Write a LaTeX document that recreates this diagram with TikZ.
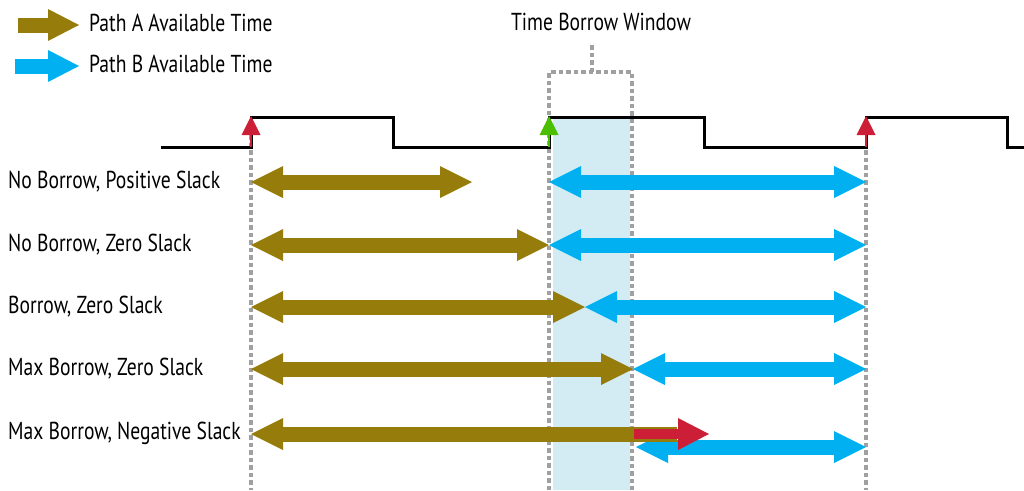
\documentclass[tikz,border=0pt]{standalone}
\usepackage{fontspec}
\setmainfont{PT Sans}[FakeStretch=0.8]
\usetikzlibrary{arrows.meta}
\definecolor{pathAcol}{RGB}{150,124,11}
\definecolor{pathBcol}{RGB}{0,176,240}
\definecolor{edgeRed}{RGB}{204,30,55}
\definecolor{edgeGreen}{RGB}{76,190,0}
\definecolor{gridGray}{RGB}{160,160,160}
\definecolor{windowFill}{RGB}{211,235,243}
\begin{document}
\begin{tikzpicture}[x=1pt,y=-1pt,
  lbl/.style={font=\fontsize{24.5}{28}\selectfont, inner sep=0pt, anchor=west, text=black},
  clk/.style={line width=3pt, black, line join=miter},
  gridline/.style={draw=gridGray, line width=3.5pt, dash pattern=on 4.5pt off 3pt},
  dblA/.style={pathAcol, line width=15pt, {Triangle[length=32pt,width=32pt,line width=0pt]}-{Triangle[length=32pt,width=32pt,line width=0pt]}},
  dblB/.style={pathBcol, line width=15pt, {Triangle[length=32pt,width=32pt,line width=0pt]}-{Triangle[length=32pt,width=32pt,line width=0pt]}},
  leftA/.style={pathAcol, line width=15pt, {Triangle[length=32pt,width=32pt,line width=0pt]}-},
  rightA/.style={pathAcol, line width=15pt, -{Triangle[length=31pt,width=32pt,line width=0pt]}},
  rightB/.style={pathBcol, line width=15pt, -{Triangle[length=31pt,width=32pt,line width=0pt]}},
  late/.style={edgeRed, line width=10pt, -{Triangle[length=31pt,width=32pt,line width=0pt]}},
  edgemark/.style={line width=2pt, -{Triangle[length=19pt,width=19pt,line width=0pt]}}
]
\useasboundingbox (0,0) rectangle (1024,490);

% time points
\coordinate (t1) at (251,0);
\coordinate (t2) at (549,0);
\coordinate (tw) at (632,0);
\coordinate (t3) at (866,0);

% time borrow window shading
\fill[windowFill] (553,117) rectangle (630,490);

% grid lines
\draw[gridline] (t1 |- 0,135) -- (t1 |- 0,490);
\draw[gridline] (t3 |- 0,150) -- (t3 |- 0,490);
\draw[gridline] (t2 |- 0,490) -- (t2 |- 0,72) -- (tw |- 0,72) -- (tw |- 0,490);
\coordinate (wtop) at (592,72);
\coordinate (wtick) at (592,42);
\draw[gridline] (wtop) -- (wtick);
\node[font=\fontsize{24.5}{28}\selectfont, inner sep=0pt, text=black] (twlabel) at (601,22) {Time Borrow Window};

% clock
\draw[clk] (161,147) -- (t1 |- 0,147) -- (t1 |- 0,117) -- (393,117) -- (393,147)
  -- (t2 |- 0,147) -- (t2 |- 0,117) -- (704,117) -- (704,147)
  -- (t3 |- 0,147) -- (t3 |- 0,117) -- (1007,117) -- (1007,147) -- (1024,147);

% edge markers
\draw[edgemark, edgeRed] (t1 |- 0,147) -- (t1 |- 0,116);
\draw[edgemark, edgeGreen] (t2 |- 0,147) -- (t2 |- 0,116);
\draw[edgemark, edgeRed] (t3 |- 0,147) -- (t3 |- 0,116);

% legend
\coordinate (legAs) at (18,25); \coordinate (legAe) at (79,25);
\coordinate (legBs) at (15,66); \coordinate (legBe) at (79,66);
\draw[rightA] (legAs) -- (legAe);
\draw[rightB] (legBs) -- (legBe);
\node[lbl] (legA) at (89,23) {Path A Available Time};
\node[lbl] (legB) at (89,64) {Path B Available Time};

% row labels
\node[lbl] (r1) at (8,182) {No Borrow, Positive Slack};
\node[lbl] (r2) at (8,245) {No Borrow, Zero Slack};
\node[lbl] (r3) at (8,307) {Borrow, Zero Slack};
\node[lbl] (r4) at (8,369) {Max Borrow, Zero Slack};
\node[lbl] (r5) at (8,433) {Max Borrow, Negative Slack};

% row 1
\coordinate (a1s) at (251,182); \coordinate (a1e) at (472,182);
\coordinate (b1s) at (549,182); \coordinate (b1e) at (866,182);
\draw[dblA] (a1s) -- (a1e);
\draw[dblB] (b1s) -- (b1e);
% row 2
\coordinate (a2s) at (251,245); \coordinate (a2e) at (549,245);
\coordinate (b2s) at (549,245); \coordinate (b2e) at (866,245);
\draw[dblA] (a2s) -- (a2e);
\draw[dblB] (b2s) -- (b2e);
% row 3
\coordinate (a3s) at (251,307); \coordinate (a3e) at (585,307);
\coordinate (b3s) at (585,307); \coordinate (b3e) at (866,307);
\draw[dblA] (a3s) -- (a3e);
\draw[dblB] (b3s) -- (b3e);
% row 4
\coordinate (a4s) at (251,369); \coordinate (a4e) at (633,369);
\coordinate (b4s) at (633,369); \coordinate (b4e) at (866,369);
\draw[dblA] (a4s) -- (a4e);
\draw[dblB] (b4s) -- (b4e);
% row 5
\coordinate (a5s) at (251,434); \coordinate (a5e) at (677,434);
\coordinate (b5s) at (636,447); \coordinate (b5e) at (866,447);
\coordinate (n5s) at (634,434); \coordinate (n5e) at (709,434);
\draw[dblB] (b5s) -- (b5e);
\draw[leftA] (a5s) -- (a5e);
\draw[late] (n5s) -- (n5e);
\end{tikzpicture}
\end{document}
